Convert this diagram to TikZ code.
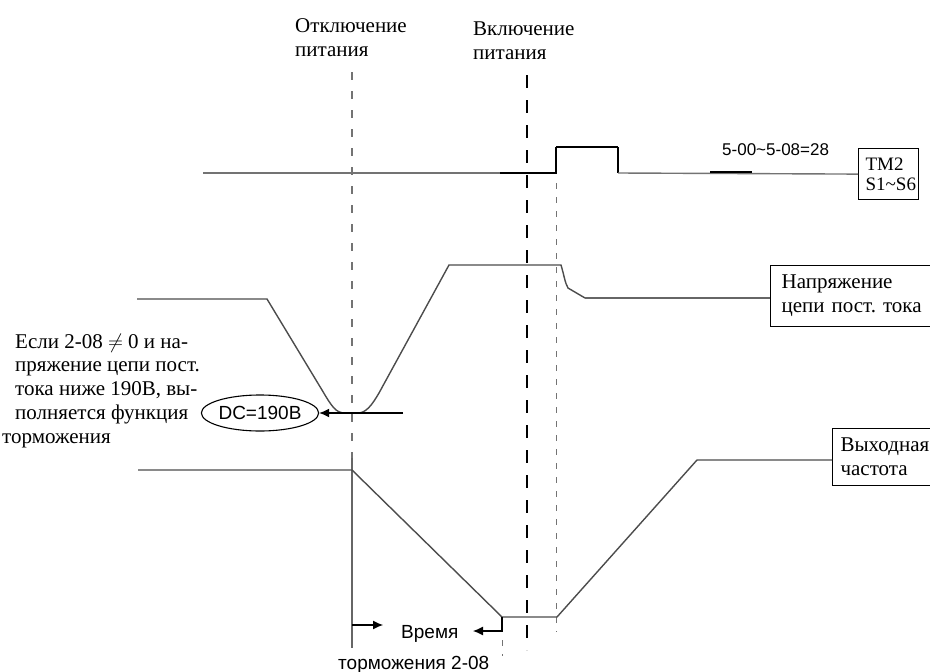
\documentclass[tikz,border=0pt]{standalone}
\usepackage{fontspec}
\setmainfont{Liberation Serif}
\setsansfont{Liberation Sans}
\usetikzlibrary{arrows.meta,shapes.geometric}

\begin{document}
\begin{tikzpicture}[x=1pt,y=-1pt,>={Latex[length=10pt,width=9pt]},
  wave/.style={line width=1.4pt,black!70},
  hot/.style={line width=2.4pt,black},
  cut/.style={line width=1.3pt,black!55,dash pattern=on 8pt off 11pt},
  cutmain/.style={line width=1.8pt,black,dash pattern=on 13pt off 12pt},
  cutthin/.style={line width=1pt,black!55,dash pattern=on 6pt off 8pt},
  box/.style={draw,line width=1.2pt,anchor=north west,inner ysep=0pt,align=left},
  t/.style={anchor=base west,inner sep=0pt,align=left,font=\fontsize{21}{24}\selectfont},
  ts/.style={anchor=base west,inner sep=0pt,font=\sffamily\fontsize{19}{21}\selectfont}]
\useasboundingbox (0,0) rectangle (930,672);

\node[t] (off) at (295,56) {Отключение\\питания};
\node[t] (on) at (473,59) {Включение\\питания};

\draw[cut] (352,72) -- (352,458);
\draw[line width=1.4pt,black!60] (352,458) -- (352,648);
\draw[cutmain] (527,75) -- (527,650);
\draw[cutthin] (556,183) -- (556,632);
\draw[cutthin] (502,640) -- (502,656);

% TM2 S1~S6
\node[box,font=\fontsize{19}{20}\selectfont,text width=46pt,inner xsep=7pt,
  minimum height=51pt] (tm) at (858,148) {TM2\\S1\textasciitilde S6};
\node[ts,font=\sffamily\fontsize{17}{19}\selectfont] (par) at (722,155) {5-00\textasciitilde 5-08=28};
\draw[wave,black!55] (203,173) -- (500,173);
\draw[line width=1.4pt,black] (500,173) -- (556,173) -- (556,147);
\draw[hot] (556,147) -- (618,147);
\draw[line width=1.4pt,black] (618,147) -- (618,173);
\draw[wave,black!55] (618,173) -- (tm.west);
\draw[hot] (710,172) -- (752,172);

% DC bus
\node[box,font=\fontsize{21}{24}\selectfont,text width=150pt,inner xsep=11pt,
  minimum height=61pt] (vdc) at (770,265) {Напряжение\\цепи пост.\ тока};
\draw[wave] (137,299) -- (267,299) -- (322,390)
  .. controls (332,407) and (336,413) .. (345,413) -- (358,413)
  .. controls (366,413) and (372,405) .. (379,393) -- (449,265) -- (561,265)
  .. controls (564,275) and (565,283) .. (568,288) -- (585,298);
\draw[wave,line width=2pt,black!60] (585,298) -- (vdc.west |- 0,298);

\node[ellipse,draw,line width=1.1pt,minimum width=106pt,minimum height=36pt,
  inner sep=0pt,font=\sffamily\fontsize{19}{21}\selectfont] (dc) at (260,413) {DC=190В};
\coordinate (dcin) at (403,413);
\draw[->,line width=1.2pt] (dcin) -- (dc.east);

\node[t,font=\fontsize{21}{23.7}\selectfont] (note) at (2,443) {\hspace*{13pt}Если 2-08 $\neq$ 0 и на-\\
  \hspace*{13pt}пряжение цепи пост.\\
  \hspace*{13pt}тока ниже 190В, вы-\\
  \hspace*{13pt}полняется функция\\
  торможения};

% output frequency
\node[box,font=\fontsize{21}{24}\selectfont,text width=100pt,inner xsep=8pt,
  minimum height=57pt] (fout) at (832,428) {Выходная\\частота};
\draw[wave] (138,470) -- (352,470) -- (502,617) -- (557,617) -- (697,460) -- (fout.west |- 0,460);

% braking time
\coordinate (bl0) at (352,625);
\coordinate (bl1) at (383,625);
\coordinate (br0) at (502,617);
\coordinate (br1) at (502,631);
\coordinate (br2) at (473,631);
\draw[->,line width=1.1pt] (bl0) -- (bl1);
\draw[->,line width=1.1pt] (br0) -- (br1) -- (br2);
\node[ts] (tb1) at (401,638) {Время};
\node[ts] (tb2) at (338,669) {торможения 2-08};
\end{tikzpicture}
\end{document}
